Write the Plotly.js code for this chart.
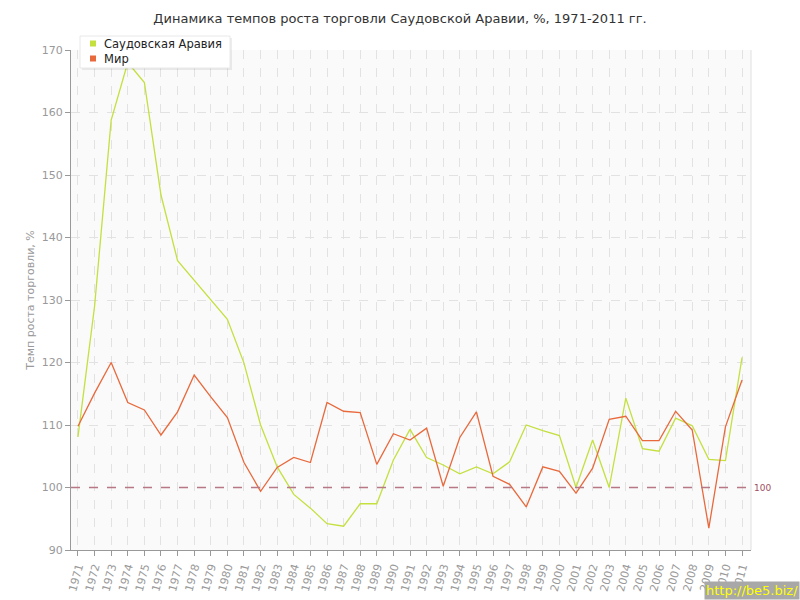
<!DOCTYPE html>
<html><head><meta charset="utf-8">
<script src="https://cdn.plot.ly/plotly-3.0.1.min.js"></script>
<style>body{margin:0;padding:0;background:#fff}#chart{width:800px;height:600px}</style>
</head><body><div id="chart"></div>
<script>
var years = [];
for (var y = 1971; y <= 2011; y++) years.push(y);
var saudi = [108.1,129.0,158.8,168.0,164.8,146.8,136.3,133.2,130.0,126.9,119.9,110.0,103.3,98.9,96.7,94.2,93.8,97.4,97.4,104.4,109.3,104.8,103.6,102.2,103.3,102.2,104.1,110.0,109.1,108.3,100.0,107.6,100.0,114.3,106.2,105.8,111.1,109.9,104.5,104.3,120.8];
var world = [109.8,115.1,120.0,113.6,112.4,108.4,112.1,118.0,114.5,111.2,104.0,99.4,103.2,104.8,104.0,113.6,112.2,112.0,103.7,108.6,107.6,109.5,100.2,108.0,112.1,101.8,100.5,96.9,103.3,102.6,99.1,103.1,110.9,111.4,107.5,107.5,112.2,109.2,93.5,109.7,117.2];
var seriesNames = ['Саудовская Аравия','Мир'];
var colors = ['#c3e03f','#e8693c'];
var refLevel = 100;
var yTicks = [90,100,110,120,130,140,150,160,170];

var font = 'DejaVu Sans, Verdana, sans-serif';
var traces = [
  {x: years, y: saudi, mode:'lines', name:seriesNames[0], line:{color:colors[0], width:1.3}, showlegend:false},
  {x: years, y: world, mode:'lines', name:seriesNames[1], line:{color:colors[1], width:1.3}, showlegend:false}
];

// plot area in pixels: x 71..751, y 50..550
function px(v){ return (v-71)/680; }
function py(v){ return (550-v)/500; }

var legendShapes = [
  {type:'rect', xref:'paper', yref:'paper', x0:px(82), x1:px(232), y0:py(70), y1:py(38), fillcolor:'rgba(0,0,0,0.07)', line:{width:0}},
  {type:'rect', xref:'paper', yref:'paper', x0:px(80), x1:px(230), y0:py(68), y1:py(36), fillcolor:'#ffffff', line:{color:'#e8e8e8', width:1}}
];
var legendAnn = [];
var rowY = [43.5, 58.5];
for (var i = 0; i < seriesNames.length; i++) {
  legendShapes.push({type:'rect', xref:'paper', yref:'paper', x0:px(90), x1:px(96), y0:py(rowY[i]+3), y1:py(rowY[i]-3), fillcolor:colors[i], line:{width:0}});
  legendAnn.push({xref:'paper', yref:'paper', x:px(102), y:py(rowY[i]), xanchor:'left', yanchor:'middle', text:seriesNames[i], showarrow:false, font:{family:font, size:11.5, color:'#222'}});
}

var layout = {
  width:800, height:600,
  margin:{l:71, r:49, t:50, b:50},
  paper_bgcolor:'#ffffff', plot_bgcolor:'#fafafa',
  font:{family:font, size:11, color:'#999'},
  title:{text:'Динамика темпов роста торговли Саудовской Аравии, %, 1971-2011 гг.', font:{family:font, size:13, color:'#333'}, x:0.5, xref:'container', xanchor:'center', y:0.97, yanchor:'middle'},
  xaxis:{range:[1970.58, 2011.54], tickvals:years, ticktext:years.map(String), tickangle:-75,
    showgrid:true, gridcolor:'#e2e2e2', griddash:'dash', gridwidth:1,
    showline:true, linecolor:'#999', linewidth:1, ticks:'outside', ticklen:5, tickcolor:'#999',
    tickfont:{family:font, size:11, color:'#999'}, zeroline:false, fixedrange:true},
  yaxis:{range:[90,170], tickvals:yTicks, showgrid:true, gridcolor:'#e2e2e2', griddash:'dash', gridwidth:1,
    showline:true, linecolor:'#999', linewidth:1, ticks:'outside', ticklen:5, tickcolor:'#999',
    tickfont:{family:font, size:11, color:'#999'}, zeroline:false,
    title:{text:'Темп роста торговли, %', font:{family:font, size:11, color:'#999'}, standoff:4}},
  showlegend:false,
  shapes:[
    {type:'line', xref:'paper', yref:'paper', x0:1, x1:1, y0:0, y1:1, line:{color:'#e0e0e0', width:1}},
    {type:'line', xref:'paper', yref:'y', x0:0, x1:1, y0:refLevel, y1:refLevel, line:{color:'#b87784', width:1.5, dash:'dash'}}
  ].concat(legendShapes),
  annotations:[
    {xref:'paper', yref:'y', x:1, y:refLevel, text:String(refLevel), showarrow:false, xanchor:'left', xshift:1, font:{family:font, size:9, color:'#a0505f'}},
    {xref:'paper', yref:'paper', x:1, y:0, xanchor:'right', yanchor:'bottom', text:'http://be5.biz/', showarrow:false, bgcolor:'#a8a8a8', font:{family:font, size:13, color:'#ffff00'}, borderpad:1,
     xshift:49, yshift:-50}
  ].concat(legendAnn)
};
Plotly.newPlot('chart', traces, layout, {displayModeBar:false, staticPlot:true});
</script></body></html>
